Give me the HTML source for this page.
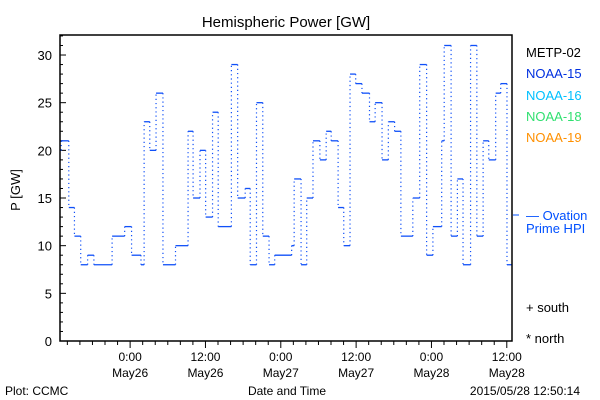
<!DOCTYPE html>
<html><head><meta charset="utf-8"><style>
body{margin:0;background:#fff;}
svg{display:block;font-family:"Liberation Sans",sans-serif;}
</style></head><body>
<svg id="chart" width="600" height="400" viewBox="0 0 600 400">
<rect x="0" y="0" width="600" height="400" fill="#fff"/>
<text x="286" y="27" font-size="15" text-anchor="middle">Hemispheric Power [GW]</text>
<text transform="translate(20,190) rotate(-90)" font-size="13" text-anchor="middle">P [GW]</text>
<text x="287" y="395" font-size="12" text-anchor="middle">Date and Time</text>
<text x="5" y="395" font-size="12">Plot: CCMC</text>
<text x="580" y="395" font-size="12" text-anchor="end">2015/05/28 12:50:14</text>
<g id="axes"></g>
<g id="series"></g>
<rect x="60" y="35" width="452" height="306" fill="none" stroke="#000" stroke-width="1.5"/>
<g font-size="13">
<text x="526" y="57" fill="#000">METP-02</text>
<text x="526" y="78" fill="#0030e0">NOAA-15</text>
<text x="526" y="100" fill="#00c0ff">NOAA-16</text>
<text x="526" y="121" fill="#30e070">NOAA-18</text>
<text x="526" y="142" fill="#ff9000">NOAA-19</text>
<line x1="513" y1="215" x2="519" y2="215" stroke="#0050ff"/>
<text x="526" y="220" fill="#0050ff">— Ovation</text>
<text x="526" y="233" fill="#0050ff">Prime HPI</text>
<text x="526" y="312" fill="#000">+ south</text>
<text x="526" y="343" fill="#000">* north</text>
</g>
</svg>
<script>
// hours since 2015/05/25 12:50 (plot start), value in GW
const stepStarts = [0,0.2,1.4,2.3,3.3,4.4,5.4,8.3,10.3,11.4,12.9,13.4,14.3,15.3,16.4,18.4,20.4,21.2,22.3,23.2,24.3,25.2,27.3,28.3,29.5,30.3,31.3,32.3,33.3,34.2,36.9,37.3,38.4,39.3,40.3,41.4,42.4,43.2,44.3,45.2,46.2,47.1,48.1,49.3,50.2,51.3,52.3,53.3,54.3,56.2,57.3,58.4,59.4,60.8,61.2,62.3,63.3,64.2,65.4,66.4,67.4,68.3,69.4,70.2,71.2];
const stepValues = [20,21,14,11,8,9,8,11,12,9,8,23,20,26,8,10,22,15,20,13,24,12,29,15,16,8,25,11,8,9,10,17,8,15,21,19,22,21,14,10,28,27,26,23,25,19,23,22,11,15,29,9,12,21,31,11,17,8,31,11,21,19,26,27,8];
const yTicks = [0,5,10,15,20,25,30];
const xTickHours = [11.17,23.17,35.17,47.17,59.17,71.17];
const xTickTimes = ["0:00","12:00","0:00","12:00","0:00","12:00"];
const xTickDates = ["May26","May26","May27","May27","May28","May28"];
const tEnd = 72, yMax = 32.1;

const NS="http://www.w3.org/2000/svg";
const X0=60,X1=512,Y0=341,Y1=35;
const xs=t=>X0+(X1-X0)*t/tEnd;
const ys=v=>Y0-(Y0-Y1)*v/yMax;
function mk(tag,attrs,parent){const e=document.createElementNS(NS,tag);for(const k in attrs)e.setAttribute(k,attrs[k]);parent.appendChild(e);return e;}
const axes=document.getElementById('axes');
// y ticks
for(let v=0;v<=32;v++){
  const major=v%5===0;
  const l=mk('line',{x1:X0,x2:X0+(major?6:3),y1:ys(v),y2:ys(v),stroke:'#000'},axes);
  
  
}
yTicks.forEach(v=>{
  const t=mk('text',{x:X0-8,y:ys(v)+5,'font-size':13,'text-anchor':'end'},axes);
  t.textContent=v;
  
  
});
// x ticks (every 2h)
for(let h=xTickHours[0]-10;h<=tEnd;h+=2){
  if(h<0)continue;
  const major=xTickHours.some(m=>Math.abs(m-h)<0.01);
  const l=mk('line',{x1:xs(h),x2:xs(h),y1:Y0,y2:Y0+(major?7:4),stroke:'#000'},axes);
  
  
}
xTickHours.forEach((h,i)=>{
  const t=mk('text',{x:xs(h),y:361,'font-size':12,'text-anchor':'middle'},axes);
  t.textContent=xTickTimes[i];
  
  
  const d=mk('text',{x:xs(h),y:377,'font-size':12,'text-anchor':'middle'},axes);
  d.textContent=xTickDates[i];
  
  
});
// step series
const s=document.getElementById('series');
const col='#1050f8';
stepValues.forEach((v,i)=>{
  const a=stepStarts[i], b=i+1<stepStarts.length?stepStarts[i+1]:tEnd;
  const h=mk('line',{x1:xs(a),x2:xs(b),y1:ys(v),y2:ys(v),stroke:col,'stroke-width':1.3},s);
  
  
  if(i+1<stepValues.length){
    const vl=mk('line',{x1:xs(b),x2:xs(b),y1:ys(v),y2:ys(stepValues[i+1]),stroke:col,'stroke-width':1.2,'stroke-dasharray':'1.2,3'},s);
    
    
  }
});
</script>
</body></html>
